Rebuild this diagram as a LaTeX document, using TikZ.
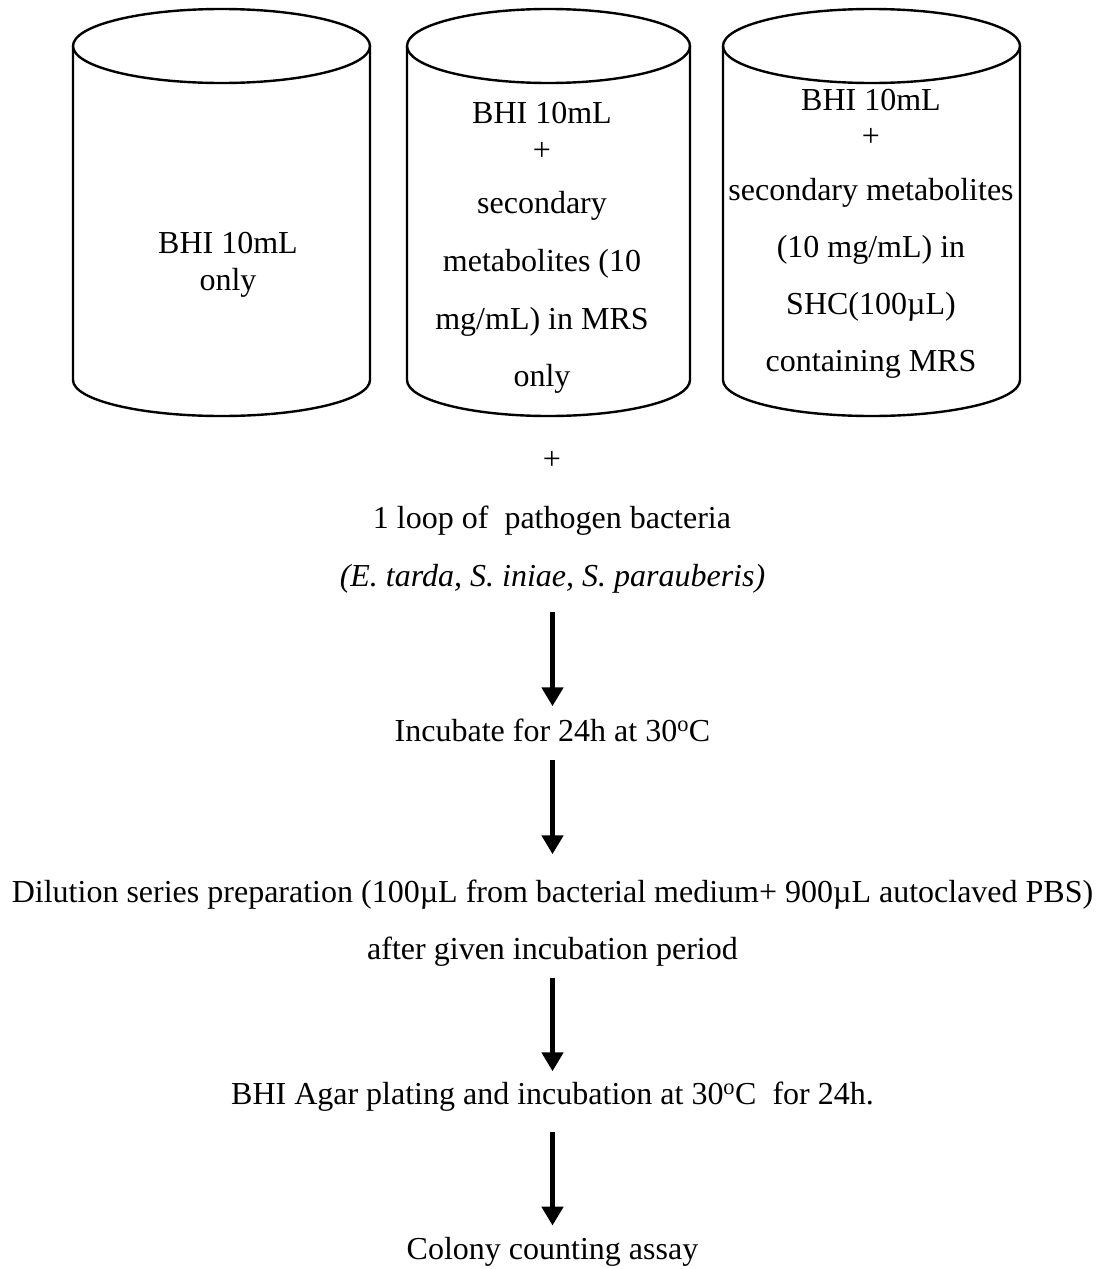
\documentclass[tikz,border=0pt]{standalone}
\usepackage{fontspec}
\setmainfont{Liberation Serif}
\usetikzlibrary{arrows.meta}
\begin{document}
\begin{tikzpicture}[x=1pt,y=-1pt,
  txt/.style={anchor=base,inner sep=0pt,font=\fontsize{32}{38}\selectfont},
  cylline/.style={line width=2.4pt},
  arr/.style={line width=5.5pt,-{Triangle[length=19pt,width=21pt]}}]
\useasboundingbox (0,0) rectangle (1100,1269);
% cylinders
\foreach \cx/\rx in {221.5/148.5, 548.5/141.5, 871.5/148.5}{
  \draw[cylline] (\cx,46) ellipse [x radius=\rx, y radius=37];
  \draw[cylline] (\cx-\rx,46) -- (\cx-\rx,380)
     arc[start angle=180,end angle=0,x radius=\rx,y radius=36] -- (\cx+\rx,46);
}
% cylinder 1
\node[txt] (c1a) at (228,253) {BHI 10mL};
\node[txt] (c1b) at (228,290) {only};
% cylinder 2
\node[txt] (c2a) at (542,123) {BHI 10mL};
\node[txt] (c2b) at (542,160) {+};
\node[txt] (c2c) at (542,213) {secondary};
\node[txt] (c2d) at (542,271) {metabolites (10};
\node[txt] (c2e) at (542,329) {mg/mL) in MRS};
\node[txt] (c2f) at (542,386) {only};
% cylinder 3
\node[txt] (c3a) at (871,110) {BHI 10mL};
\node[txt] (c3b) at (871,146) {+};
\node[txt] (c3c) at (871,200) {secondary metabolites};
\node[txt] (c3d) at (871,257) {(10 mg/mL) in};
\node[txt] (c3e) at (871,314) {SHC(100µL)};
\node[txt] (c3f) at (871,371) {containing MRS};
% flow
\node[txt] (plus) at (552,469) {+};
\node[txt] (loop) at (552,528) {1 loop of\ \ pathogen bacteria};
\node[txt] (spec) at (552.5,586) {\itshape (E. tarda, S. iniae, S. parauberis)};
\node[txt] (inc) at (552.5,741) {Incubate for 24h at 30\textsuperscript{o}C};
\node[txt] (dil) at (552.5,902) {Dilution series preparation (100µL from bacterial medium+ 900µL autoclaved PBS)};
\node[txt] (aft) at (552.5,959) {after given incubation period};
\node[txt] (agar) at (552.5,1104) {BHI Agar plating and incubation at 30\textsuperscript{o}C\ \ for 24h.};
\node[txt] (col) at (552.5,1259) {Colony counting assay};
\draw[arr] ([yshift=-19pt]spec.south) -- ([yshift=12pt]inc.north);
\draw[arr] ([yshift=-18pt]inc.south) -- ([yshift=25pt]dil.north);
\draw[arr] ([yshift=-12pt]aft.south) -- ([yshift=10pt]agar.north);
\draw[arr] ([yshift=-21pt]agar.south) -- ([yshift=11pt]col.north);
\end{tikzpicture}
\end{document}
